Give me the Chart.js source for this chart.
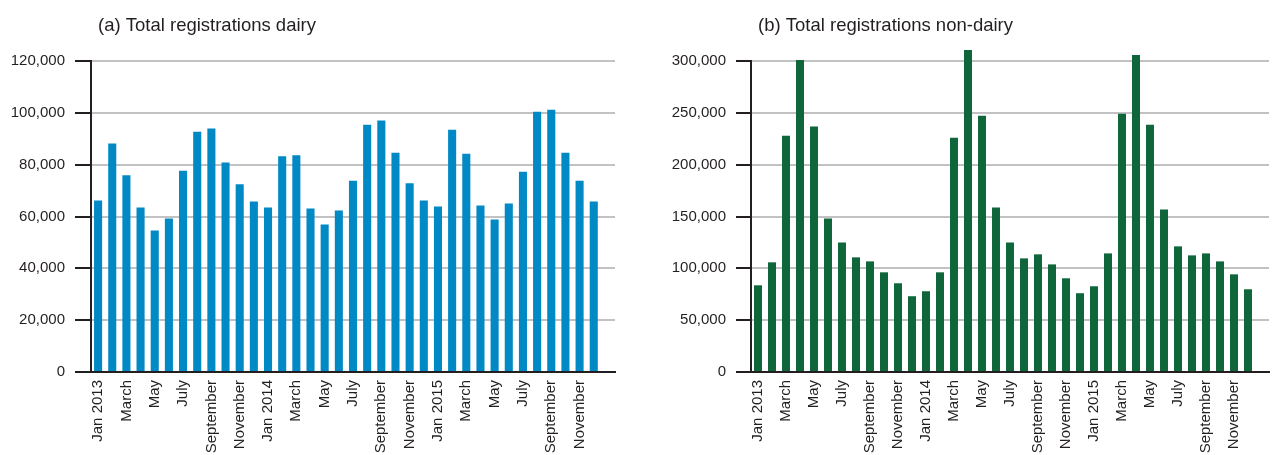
<!DOCTYPE html>
<html>
<head>
<meta charset="utf-8">
<script src="https://cdn.jsdelivr.net/npm/chart.js@4/dist/chart.umd.min.js"></script>
<style>
  body { margin: 0; background: #fff; overflow: hidden; }
  .panel { position: absolute; top: 0; width: 637px; height: 455px; }
</style>
</head>
<body>
<div class="panel" style="left:0"><canvas id="dairyChart" width="637" height="455"></canvas></div>
<div class="panel" style="left:637px"><canvas id="nonDairyChart" width="637" height="455"></canvas></div>
<script>
// months Jan 2013 - Dec 2015, only every other one gets a label on the axis
const months = [
    'Jan 2013', 'February', 'March', 'April', 'May', 'June', 'July', 'August', 'September', 'October', 'November', 'December',
    'Jan 2014', 'February', 'March', 'April', 'May', 'June', 'July', 'August', 'September', 'October', 'November', 'December',
    'Jan 2015', 'February', 'March', 'April', 'May', 'June', 'July', 'August', 'September', 'October', 'November', 'December'
];

const dairy = [
    66150, 88200, 75900, 63460, 54600, 59230, 77700, 92700, 94000, 80800, 72400, 65770,
    63460, 83200, 83600, 63080, 56920, 62310, 73800, 95400, 97000, 84600, 72800, 66150,
    63850, 93500, 84200, 64230, 58850, 65000, 77300, 100400, 101200, 84600, 73800, 65770
];

const nonDairy = [
    83650, 105800, 227900, 301000, 236800, 148100, 125000, 110600, 106700, 96150, 85600, 73100,
    77900, 96150, 226000, 310600, 247100, 158700, 125000, 109600, 113500, 103800, 90400, 76000,
    82700, 114400, 249000, 305800, 238500, 156700, 121200, 112500, 114400, 106700, 94200, 79800
];

const dairyTicks = [0, 20000, 40000, 60000, 80000, 100000, 120000];
const nonDairyTicks = [0, 50000, 100000, 150000, 200000, 250000, 300000];

const ink = '#231f20';
const gridGrey = '#c2c2c4';
const fontFamily = '"Liberation Sans", Arial, sans-serif';

// small title in the top left corner of each panel
const panelTitle = {
    id: 'panelTitle',
    afterDraw(chart, args, opts) {
        const ctx = chart.ctx;
        ctx.save();
        ctx.fillStyle = ink;
        ctx.font = '18.5px ' + fontFamily;
        ctx.textBaseline = 'middle';
        ctx.fillText(opts.text, chart.chartArea.left + 7, 26);
        ctx.restore();
    }
};

function makeChart(id, title, values, colour, ticks, yWidth, tickLen) {
    const step = ticks[1] - ticks[0];
    const right = id === 'dairyChart' ? 22 : 0;
    return new Chart(document.getElementById(id).getContext('2d'), {
        type: 'bar',
        data: {
            labels: [...months, ''], // trailing empty slot, the axis runs on past the last bar
            datasets: [{
                data: values,
                backgroundColor: colour,
                barPercentage: 0.57,
                categoryPercentage: 1,
                clip: false // the spring peaks poke above the top gridline
            }]
        },
        options: {
            responsive: false,
            animation: false,
            layout: { padding: { top: 61, right: right, left: 0, bottom: 0 } },
            plugins: {
                legend: { display: false },
                tooltip: { enabled: false },
                panelTitle: { text: title }
            },
            scales: {
                x: {
                    grid: { display: false, drawTicks: false },
                    border: { display: true, color: ink, width: 2 },
                    ticks: {
                        autoSkip: false,
                        minRotation: 90,
                        maxRotation: 90,
                        padding: 8,
                        color: ink,
                        font: { family: fontFamily, size: 15 },
                        callback: (v, i) => (i % 2 === 0 ? months[i] : '')
                    },
                    afterFit: (s) => { s.height = 455 - 372; }
                },
                y: {
                    min: 0,
                    max: ticks[ticks.length - 1],
                    grid: {
                        color: (c) => (c.tick && c.tick.value === 0 ? ink : gridGrey),
                        lineWidth: 2,
                        tickColor: ink,
                        tickLength: tickLen,
                        tickWidth: 2
                    },
                    border: { display: true, color: ink, width: 2 },
                    ticks: {
                        stepSize: step,
                        padding: 10,
                        color: ink,
                        font: { family: fontFamily, size: 15 },
                        callback: (v) => v.toLocaleString('en-US')
                    },
                    afterFit: (s) => { s.width = yWidth; }
                }
            }
        },
        plugins: [panelTitle]
    });
}

makeChart('dairyChart', '(a) Total registrations dairy', dairy, '#0089c4', dairyTicks, 91, 16);
makeChart('nonDairyChart', '(b) Total registrations non-dairy', nonDairy, '#0e663a', nonDairyTicks, 114, 15);
</script>
</body>
</html>
